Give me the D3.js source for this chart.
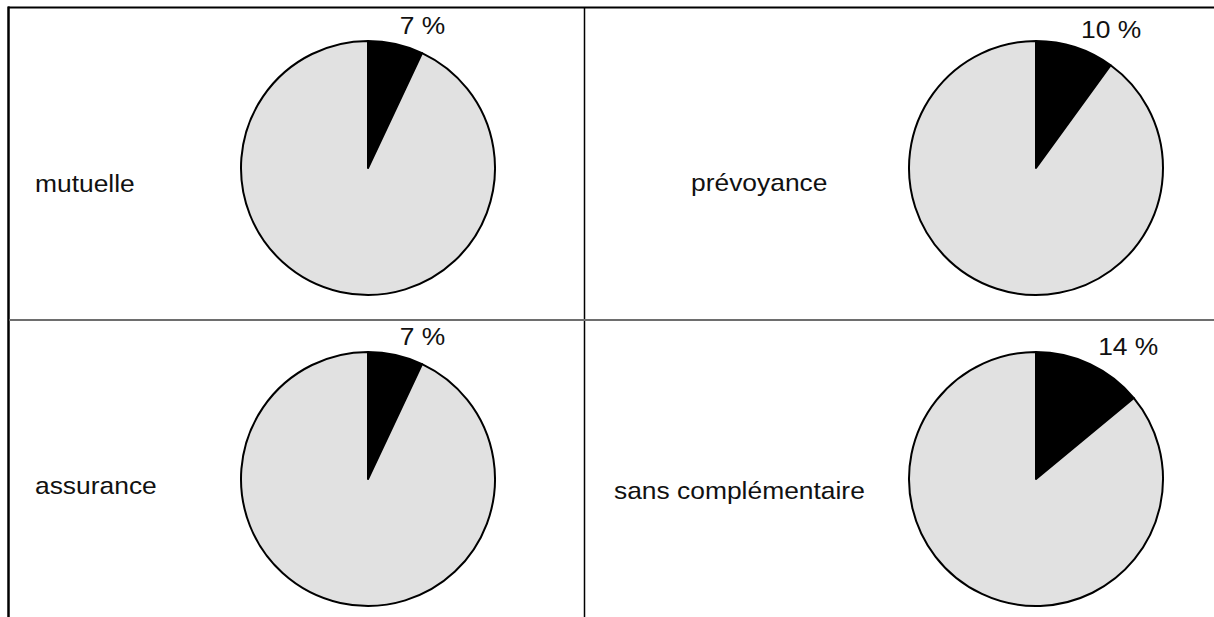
<!DOCTYPE html>
<html>
<head>
<meta charset="utf-8">
<script src="https://cdn.jsdelivr.net/npm/d3@7"></script>
<style>
  body { margin: 0; background: #fff; }
  svg { display: block; }
</style>
</head>
<body>
<div id="plot_area"></div>
<script>
// Data: share (in %) of each category, one pie per category
const categories = ['mutuelle', 'prévoyance', 'assurance', 'sans complémentaire'];
const shares = [7, 10, 7, 14];
const shareLabels = ['7 %', '10 %', '7 %', '14 %'];

// Layout
const w = 1214;
const h = 617;
const radius = 127;
const labelRadius = 146;
const panelCenters = [[368, 168], [1036, 168], [368, 479], [1036, 479]];
const nameAnchors = [[35, 192], [691, 191], [35, 494], [614, 499]];
const fontFamily = '"Liberation Sans", Arial, Helvetica, sans-serif';

const svg = d3.select('#plot_area')
    .append('svg')
    .attr('width', w)
    .attr('height', h);

// Table grid
svg.append('line')
   .attr('x1', 8).attr('x2', w)
   .attr('y1', 7.5).attr('y2', 7.5)
   .attr('stroke', '#000').attr('stroke-width', 2);

svg.append('line')
   .attr('x1', 8.5).attr('x2', 8.5)
   .attr('y1', 6.5).attr('y2', h)
   .attr('stroke', '#000').attr('stroke-width', 2.5);

svg.append('line')
   .attr('x1', 584.5).attr('x2', 584.5)
   .attr('y1', 7).attr('y2', h)
   .attr('stroke', '#000').attr('stroke-width', 1.5);

svg.append('line')
   .attr('x1', 9).attr('x2', w)
   .attr('y1', 320).attr('y2', 320)
   .attr('stroke', '#6e6e6e').attr('stroke-width', 2);

// Pie helpers
const pie = d3.pie().sort(null).value((d) => d);
const arc = d3.arc().innerRadius(0).outerRadius(radius);
const labelArc = d3.arc().innerRadius(labelRadius).outerRadius(labelRadius);

categories.forEach(function (name, i) {
    const g = svg.append('g')
        .attr('transform', 'translate(' + panelCenters[i][0] + ',' + panelCenters[i][1] + ')');

    const slices = pie([shares[i], 100 - shares[i]]);

    g.selectAll('path')
     .data(slices)
     .enter()
     .append('path')
     .attr('d', arc)
     .attr('fill', (d, j) => j === 0 ? '#000' : '#e1e1e1')
     .attr('stroke', '#000')
     .attr('stroke-width', 2)
     .attr('stroke-linejoin', 'round');

    // Percentage label outside the black slice
    const c = labelArc.centroid(slices[0]);
    g.append('text')
     .attr('transform', 'translate(' + c[0] + ',' + (c[1] + 8.5) + ') scale(1.1,1)')
     .attr('text-anchor', 'start')
     .style('font-family', fontFamily)
     .style('font-size', '24px')
     .attr('fill', '#111')
     .text(shareLabels[i]);

    // Category name in the cell
    svg.append('text')
       .attr('transform', 'translate(' + nameAnchors[i][0] + ',' + nameAnchors[i][1] + ') scale(1.1,1)')
       .style('font-family', fontFamily)
       .style('font-size', '24px')
       .attr('fill', '#111')
       .text(name);
});
</script>
</body>
</html>
